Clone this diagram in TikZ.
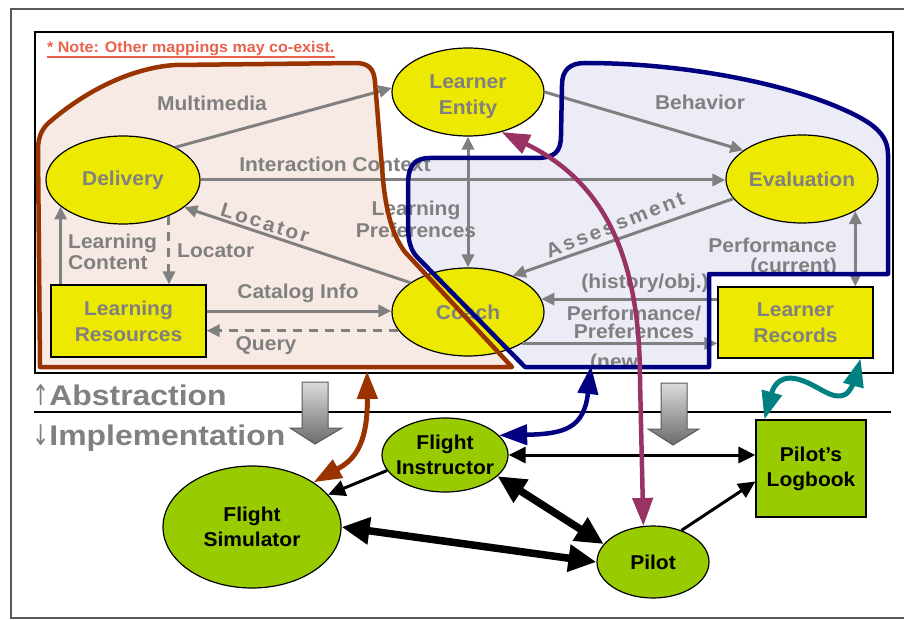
\documentclass[tikz,border=0pt]{standalone}
\usepackage{fontspec}
\setmainfont{Liberation Sans}[FakeStretch=1.05]
\newfontfamily\absfont{Liberation Sans}[FakeStretch=1.12]
\newfontfamily\arrfont{DejaVu Sans}[FakeStretch=0.72]
\usetikzlibrary{arrows.meta,shapes.geometric,calc}
\definecolor{yel}{RGB}{238,233,0}
\definecolor{grn}{RGB}{153,204,0}
\definecolor{gtxt}{RGB}{128,128,128}
\definecolor{brn}{RGB}{153,51,0}
\definecolor{nvy}{RGB}{0,0,128}
\definecolor{mag}{RGB}{153,51,102}
\definecolor{tea}{RGB}{0,128,128}
\definecolor{notec}{RGB}{232,98,76}
\definecolor{brfill}{RGB}{247,234,228}
\definecolor{blfill}{RGB}{235,236,245}
\definecolor{framec}{RGB}{90,90,90}
\begin{document}
\begin{tikzpicture}[x=1pt,y=-1pt,
  lab/.style={font=\fontsize{20}{23}\selectfont\bfseries, text=gtxt, inner sep=0pt},
  ynode/.style={draw=black, line width=1.2pt, fill=yel, text=gtxt, font=\fontsize{20}{26}\selectfont\bfseries, align=center, inner sep=0pt},
  yell/.style={ynode, ellipse, minimum width=152pt, minimum height=88pt},
  yrect/.style={ynode, rectangle, minimum width=155pt, minimum height=71pt},
  gnode/.style={draw=black, line width=1.2pt, fill=grn, text=black, font=\fontsize{20}{25}\selectfont\bfseries, align=center, inner sep=0pt},
  garrow/.style={draw=gtxt, line width=3pt, -{Triangle[length=13pt,width=12pt]}},
  gdbl/.style={draw=gtxt, line width=3pt, {Triangle[length=13pt,width=12pt]}-{Triangle[length=13pt,width=12pt]}},
  gdash/.style={dash pattern=on 9pt off 7pt},
  blk/.style={draw=black, line width=3pt, -{Triangle[length=17pt,width=16pt]}},
  blkd/.style={draw=black, line width=3pt, {Triangle[length=17pt,width=16pt]}-{Triangle[length=17pt,width=16pt]}},
  thkd/.style={draw=black, line width=7.5pt, {Triangle[length=28pt,width=26pt]}-{Triangle[length=28pt,width=26pt]}},
  colarr/.style={line width=5pt, {Triangle[length=28pt,width=20pt]}-{Triangle[length=28pt,width=20pt]}},
  blockarr/.style={top color=black!14, bottom color=black!58, draw=black!65, line width=1pt},
  bigtxt/.style={anchor=base west, text=gtxt, font=\fontsize{28.5}{30}\selectfont\absfont\bfseries, inner sep=0pt}
]
\useasboundingbox (0,0) rectangle (904,620);
% frames
\draw[framec, line width=1.2pt] (11,9) rectangle (912,618);
\draw[black, line width=1.3pt] (35,32) rectangle (893,373);
% region fills
\path[fill=brfill] (40,367) -- (38,150) .. controls (38,135) and (43,127) .. (52,120) .. controls (85,92) and (130,68) .. (175,65) -- (355,63) .. controls (368,63) and (374,68) .. (375,82) -- (383,180) .. controls (386,210) and (392,235) .. (405,252) -- (512,367) -- cycle;
\path[fill=blfill] (408,185) .. controls (408,165) and (415,158) .. (430,158) -- (535,158) .. controls (555,158) and (561,152) .. (561,135) -- (562,85) .. controls (562,70) and (570,63) .. (585,63) .. controls (680,63) and (780,82) .. (840,108) .. controls (875,123) and (888,135) .. (888,155) -- (888,274) -- (709,274) -- (709,367) -- (525,367) -- (418,258) .. controls (410,250) and (408,240) .. (408,225) -- cycle;
% note
\node[anchor=base west, text=notec, font=\fontsize{15.3}{17}\selectfont\bfseries, inner sep=0pt] (note) at (47,53) {* Note: Other mappings may co-exist.};
\draw[notec, line width=1.3pt] ([yshift=-4pt]note.base west) -- ([yshift=-4pt]note.base east);
% upper nodes
\node[yell] (le) at (468,92) {\raisebox{-4pt}[\height][\depth]{\begin{tabular}{@{}c@{}}Learner\\Entity\end{tabular}}};
\node[yell, minimum width=154pt] (del) at (123,180) {Delivery};
\node[yell] (eva) at (802,179) {Evaluation};
\node[yell] (coach) at (468,312) {Coach};
\node[yrect, minimum height=72pt] (lr) at (128.5,321) {Learning\\Resources};
\node[yrect] (lrec) at (795.5,322.5) {Learner\\Records};
% gray connectors
\draw[garrow] (del.32) -- (le.177);
\draw[garrow] (le.0) -- (eva.154);
\draw[garrow] (del.east) -- (del.east -| eva.west);
\draw[gdbl] (le.south) -- (coach.north);
\draw[garrow] (eva.196) -- (coach.39);
\draw[garrow] (coach.153) -- (del.-24);
\draw[garrow] (del.203 |- lr.north) -- (del.203);
\draw[garrow, gdash] (del.-38) -- (del.-38 |- lr.north);
\draw[garrow] ([yshift=10pt]lr.east) -- ([yshift=10pt]lr.east -| coach.west);
\draw[garrow, gdash] (coach.195) -- (coach.195 -| lr.east);
\draw[garrow] (coach.10 -| lrec.west) -- (coach.10);
\draw[garrow] (coach.-30) -- (coach.-30 -| lrec.west);
\draw[gdbl] (eva.-31) -- (eva.-31 |- lrec.north);
% labels
\node[lab, anchor=base] (lmm) at (212,111) {Multimedia};
\node[lab, anchor=base] (lbeh) at (700,110) {Behavior};
\node[lab, anchor=base] (lic) at (335,172) {Interaction Context};
\node[lab, align=center, font=\fontsize{20}{22}\selectfont\bfseries] (llp) at (416,219) {Learning\\Preferences};
\node[lab, rotate=21.7, font=\fontsize{20}{23}\selectfont\bfseries\addfontfeature{LetterSpace=13}] (lass) at (615,225) {Assessment};
\node[lab, rotate=-17.4, font=\fontsize{20}{23}\selectfont\bfseries\addfontfeature{LetterSpace=12}] (lloca) at (265,223) {Locator};
\node[lab, align=left, anchor=west, font=\fontsize{20}{21}\selectfont\bfseries] (llc) at (68,251.4) {Learning\\Content};
\node[lab, anchor=base west] (llocb) at (177,258) {Locator};
\node[lab, anchor=base] (lci) at (298,298) {Catalog Info};
\node[lab, anchor=base] (lq) at (266,350) {Query};
\node[lab, anchor=base] (lho) at (645,288) {(history/obj.)};
\node[lab, align=center, font=\fontsize{20}{18}\selectfont\bfseries] (lpp) at (634,322) {Performance/\\Preferences};
\begin{scope}
\clip (560,340) rectangle (700,366);
\node[lab, anchor=base west] (lnew) at (590,368) {(new};
\end{scope}
\node[lab, align=right, anchor=east, font=\fontsize{20}{20}\selectfont\bfseries] (lpc) at (837,257) {Performance\\(current)};
% region outlines
\draw[brn, line width=4.5pt, line join=round] (40,367) -- (38,150) .. controls (38,135) and (43,127) .. (52,120) .. controls (85,92) and (130,68) .. (175,65) -- (355,63) .. controls (368,63) and (374,68) .. (375,82) -- (383,180) .. controls (386,210) and (392,235) .. (405,252) -- (512,367) -- cycle;
\draw[nvy, line width=4.5pt, line join=round] (408,185) .. controls (408,165) and (415,158) .. (430,158) -- (535,158) .. controls (555,158) and (561,152) .. (561,135) -- (562,85) .. controls (562,70) and (570,63) .. (585,63) .. controls (680,63) and (780,82) .. (840,108) .. controls (875,123) and (888,135) .. (888,155) -- (888,274) -- (709,274) -- (709,367) -- (525,367) -- (418,258) .. controls (410,250) and (408,240) .. (408,225) -- cycle;
% abstraction / implementation
\draw[black, line width=2.5pt] (34,412) -- (891,412);
\node[bigtxt] (abs) at (32,405) {{\arrfont\mdseries ↑}Abstraction};
\node[bigtxt] (impl) at (32,445) {{\arrfont\mdseries ↓}Implementation};
\shadedraw[blockarr] (302,382) -- (328,382) -- (328,428) -- (342,428) -- (315,444) -- (290,428) -- (302,428) -- cycle;
\shadedraw[blockarr] (661,383) -- (687,383) -- (687,429) -- (699,429) -- (673,445) -- (648,429) -- (661,429) -- cycle;
% lower nodes
\node[gnode, ellipse, minimum width=126pt, minimum height=74pt, inner xsep=-5pt] (fi) at (445,455) {Flight\\Instructor};
\node[gnode, ellipse, minimum width=178pt, minimum height=122pt] (fs) at (252,527) {Flight\\Simulator};
\node[gnode, ellipse, minimum width=112pt, minimum height=72pt] (pilot) at (653,562) {Pilot};
\node[gnode, rectangle, minimum width=110pt, minimum height=97pt] (plog) at (811,468.5) {Pilot’s\\Logbook};
% black connectors
\draw[blkd] (fi.east) -- (fi.east -| plog.west);
\draw[blk] (fi.195) -- (fs.23);
\draw[thkd] (fi.-22) -- (pilot.160);
\draw[thkd] (fs.east) -- (pilot.west);
\draw[blk] (pilot.48) -- ([yshift=-13pt]plog.west);
% coloured mapping connectors
\coordinate (bt) at (367,371);
\coordinate (nt) at (591,366);
\draw[colarr, brn] (bt) .. controls (368,450) and (350,462) .. (fs.36);
\draw[colarr, nvy, line width=4.5pt] (nt) .. controls (584,428) and (565,434) .. (fi.20);
\draw[colarr, mag, line width=4.5pt] (le.-50) .. controls (600,180) and (640,250) .. (640,380) -- (pilot.105);
\draw[colarr, tea] ([xshift=9pt]plog.north west) .. controls (772,392) and (776,374) .. (797,379) .. controls (818,384) and (832,402) .. (846,394) .. controls (853,389) and (857,372) .. ([xshift=-13pt]lrec.south east);
\end{tikzpicture}
\end{document}
